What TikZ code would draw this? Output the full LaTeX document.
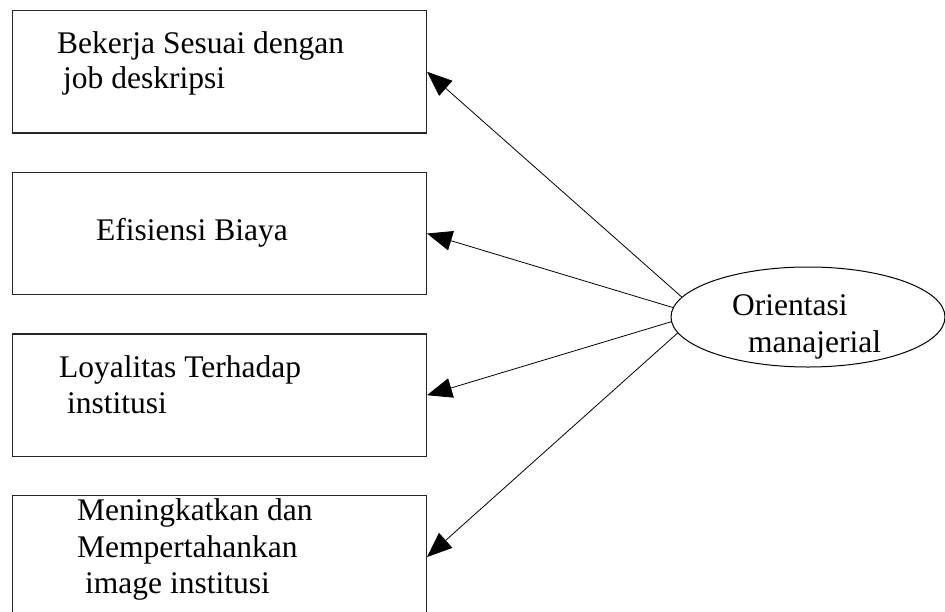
\documentclass[tikz,border=0pt]{standalone}
\usepackage{fontspec}
\setmainfont{Liberation Serif}
\usetikzlibrary{arrows.meta,shapes.geometric}
\begin{document}
\begin{tikzpicture}[x=1pt,y=-1pt,
  box/.style={draw=black!85, line width=1.1pt, minimum width=414.2pt, minimum height=122.5pt, inner sep=0pt},
  oval/.style={draw=black, line width=1pt, ellipse, minimum width=274pt, minimum height=100pt, inner sep=0pt},
  lbl/.style={anchor=base west, inner sep=0pt, font=\fontsize{31.5}{36.5}\selectfont},
  conn/.style={line width=0.8pt, -{Triangle[length=25pt,width=20pt]}}]
\useasboundingbox (0,0) rectangle (945,611);
\clip (0,0) rectangle (945,611);
\node[box] (b1) at (219.4,71.75) {};
\node[box] (b2) at (219.4,233.5) {};
\node[box] (b3) at (219.4,395.2) {};
\node[box] (b4) at (219.4,557) {};
\node[oval] (o) at (808,317) {};
\node[lbl] (t1a) at (57,53) {Bekerja Sesuai dengan};
\node[lbl] (t1b) at (63,88) {job deskripsi};
\node[lbl] (t2a) at (96,240) {Efisiensi Biaya};
\node[lbl] (t3a) at (59,377) {Loyalitas Terhadap};
\node[lbl] (t3b) at (67,413) {institusi};
\node[lbl] (t4a) at (77,520) {Meningkatkan dan};
\node[lbl] (t4b) at (77,557) {Mempertahankan};
\node[lbl] (t4c) at (85,593) {image institusi};
\node[lbl] (oa) at (732,315) {Orientasi};
\node[lbl] (ob) at (748,352) {manajerial};
\draw[conn] (o.171.7) -- (b1.east);
\draw[conn] (o.176.6) -- (b2.east);
\draw[conn] (o.182.5) -- (b3.east);
\draw[conn] (o.187) -- (b4.east);
\end{tikzpicture}
\end{document}
